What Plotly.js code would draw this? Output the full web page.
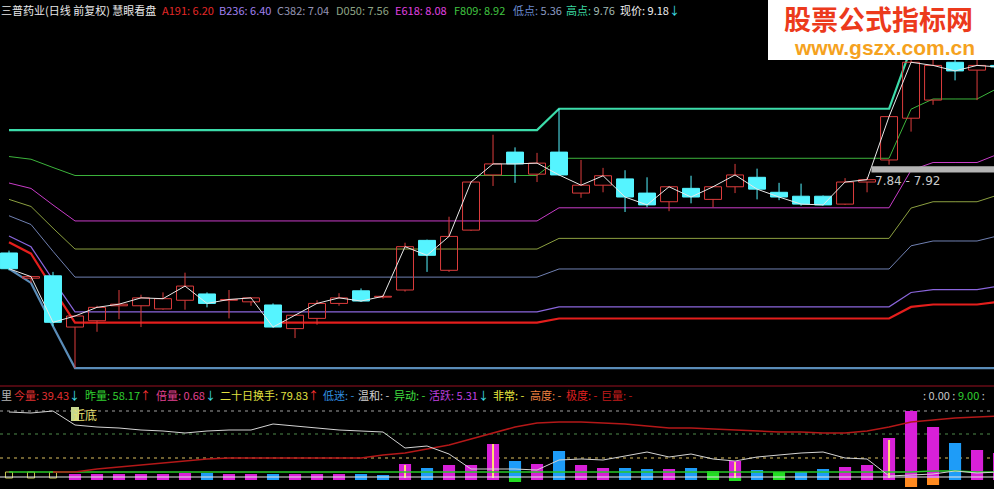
<!DOCTYPE html>
<html><head><meta charset="utf-8">
<script src="https://cdn.plot.ly/plotly-3.0.1.min.js"></script>
<style>html,body{margin:0;padding:0;background:#000;overflow:hidden}#chart{width:994px;height:489px}</style>
</head><body><div id="chart"></div>
<script>
// ---------------- DATA ----------------
const stockTitle = '三普药业(日线 前复权) 慧眼看盘';
const open  = [6.82,6.50,6.53,5.88,5.96,6.15,6.15,6.11,6.22,6.30,6.22,6.20,6.16,5.86,5.99,6.18,6.34,6.26,6.35,6.98,6.60,7.11,7.81,8.10,7.82,8.10,7.58,7.68,7.76,7.58,7.47,7.64,7.50,7.66,7.78,7.59,7.54,7.54,7.44,7.72,8.00,8.53,8.76,9.24,9.14,9.20];
const high  = [6.85,6.53,6.58,6.03,6.15,6.35,6.29,6.32,6.57,6.32,6.35,6.26,6.18,6.04,6.22,6.31,6.37,6.29,6.95,6.99,7.28,7.73,8.32,8.16,8.09,8.65,8.00,7.90,7.87,7.78,7.67,7.80,7.67,7.95,7.89,7.71,7.70,7.55,7.77,7.78,8.56,9.42,9.58,9.40,9.38,9.76];
const low   = [6.60,6.44,5.89,5.36,5.82,5.98,5.88,6.10,6.10,6.13,5.99,6.15,5.87,5.74,5.91,6.15,6.20,6.24,6.33,6.58,6.58,7.10,7.67,7.71,7.72,7.80,7.52,7.59,7.34,7.40,7.35,7.45,7.40,7.58,7.50,7.49,7.42,7.42,7.43,7.59,7.94,8.36,8.70,9.01,8.76,9.05];
const close = [6.62,6.52,5.94,6.02,6.13,6.17,6.25,6.24,6.40,6.18,6.23,6.25,5.88,6.03,6.18,6.25,6.21,6.27,6.90,6.79,7.03,7.72,7.95,7.95,7.96,7.81,7.68,7.80,7.53,7.43,7.66,7.53,7.66,7.81,7.63,7.53,7.44,7.43,7.72,7.75,8.55,9.24,9.20,9.13,9.20,9.18];
// rolling low / high lines
const lowLine  = [6.62,6.44,5.89,5.36,5.36,5.36,5.36,5.36,5.36,5.36,5.36,5.36,5.36,5.36,5.36,5.36,5.36,5.36,5.36,5.36,5.36,5.36,5.36,5.36,5.36,5.36,5.36,5.36,5.36,5.36,5.36,5.36,5.36,5.36,5.36,5.36,5.36,5.36,5.36,5.36,5.36,5.36,5.36,5.36,5.36,5.36];
const highLine = [8.38,8.38,8.38,8.38,8.38,8.38,8.38,8.38,8.38,8.38,8.38,8.38,8.38,8.38,8.38,8.38,8.38,8.38,8.38,8.38,8.38,8.38,8.38,8.38,8.38,8.65,8.65,8.65,8.65,8.65,8.65,8.65,8.65,8.65,8.65,8.65,8.65,8.65,8.65,8.65,8.65,9.42,9.58,9.58,9.58,9.76];
const fibNames  = ['A191','B236','C382','D050','E618','F809'];
const fibRatios = [0.191,0.236,0.382,0.5,0.618,0.809];
const lowPrice = 5.36, highPrice = 9.76, lastPrice = 9.18;
const rangeLow = 7.84, rangeHigh = 7.92;
// lower panel
const volBar   = [6,6,6,4,4,4,4,4,5,5,4,4,4,4,4,4,4,3,14,10,13,13,34,17,14,27,13,10,10,9,9,10,7,17,8,6,6,9,11,13,40,67,51,35,28,25];
const volCat   = ['o','o','o','m','m','m','m','m','m','c','m','m','c','m','m','m','c','c','m','c','m','m','m','c','m','c','m','m','c','c','m','c','g','m','c','g','c','c','m','m','m','m','m','c','m','m'];
const belowVal = [null,null,null,null,null,null,null,null,null,null,null,null,null,null,null,null,null,null,null,null,null,null,null,-4,null,null,null,null,null,null,null,null,null,-3,null,null,null,null,null,null,null,-9,-7,null,null,null];
const belowCat = ['','','','','','','','','','','','','','','','','','','','','','','','g','','','','','','','','','','g','','','','','','','','o','o','','',''];
const flagTop  = [null,null,null,null,null,null,null,null,null,null,null,null,null,null,null,null,null,null,13,null,null,null,34,null,null,null,null,null,null,null,null,null,null,16,null,null,null,null,null,null,38,null,null,null,null,null];
const redVol   = [null,null,6,6,9,11,13,15,17,19,20,20,20,20,20,20,20,23,25,29,33,39,45,51,55,56,56,55,54,52,50,50,49,48,47,46,46,45,45,47,51,56,58,60,61,62];
const whiteVol = [66,65,67,53,51,50,48,47,45,47,48,48,54,52,50,48,47,46,30,32,24,9,9,9,8,18,19,18,22,26,21,24,19,17,21,23,25,26,20,19,2,3,4,7,5,6];
const greenVol = [6,6,6,6,6,6,6,6,6,6,6,6,6,6,6,6,6,6,6,6,6,6,6,6,6,6,6,6,6,6,6,6,6,6,6,6,6,6,6,6,6,6,7,7,6,6];
const volLabels = ['今量','昨量','倍量','二十日换手','低迷','温和','异动','活跃','非常','高度','极度','巨量'];
const volValues = ['39.43','58.17','0.68','79.83','-','-','-','5.31','-','-','-','-'];
const volArrows = ['↓','↑','↓','↑','','','','↓','','','',''];
const sideValues = ['0.00','9.00'];
const nearLabel = '近底';

// ---------------- RENDER ----------------
const W = 994, H = 489;
const FONT = 'Noto Sans CJK SC, Noto Sans, sans-serif';
const N = open.length;
const idx = open.map((_, i) => i);
const HW = 0.385;

const traces = [];
const fibColors = ['#e41e1c','#8a66dc','#7080b2','#8ca040','#c83cc8','#3cb43c'];
const fibWidths = [2.2,1.2,1,1,1,1];
fibRatios.forEach((r, k) => {
  traces.push({type:'scatter', mode:'lines', x:idx,
    y: idx.map(i => lowLine[i] + r*(highLine[i]-lowLine[i])),
    line:{color:fibColors[k], width:fibWidths[k]}, hoverinfo:'skip'});
});
traces.push({type:'scatter', mode:'lines', x:idx, y:lowLine, line:{color:'#5a8cb8', width:2.2}, hoverinfo:'skip'});
traces.push({type:'scatter', mode:'lines', x:idx, y:highLine, line:{color:'#3cdcaa', width:2.2}, hoverinfo:'skip'});

const rX=[],rY=[],cX=[],cY=[],rwX=[],rwY=[],cwX=[],cwY=[];
for (let i=0;i<N;i++){
  const top=Math.max(open[i],close[i]), bot=Math.min(open[i],close[i]);
  const up = close[i] >= open[i];
  const X = up?rX:cX, Y = up?rY:cY, WX = up?rwX:cwX, WY = up?rwY:cwY;
  X.push(i-HW,i+HW,i+HW,i-HW,i-HW,null);
  Y.push(bot,bot,top,top,bot,null);
  WX.push(i,i,null,i,i,null);
  WY.push(high[i],top,null,bot,low[i],null);
}
const RED='#dc3c3c', CY='#55f4ff';
traces.push({type:'scatter', mode:'lines', x:rwX, y:rwY, line:{color:RED,width:1}, hoverinfo:'skip'});
traces.push({type:'scatter', mode:'lines', x:cwX, y:cwY, line:{color:CY,width:1}, hoverinfo:'skip'});
traces.push({type:'scatter', mode:'lines', x:rX, y:rY, line:{color:RED,width:1}, hoverinfo:'skip'});
traces.push({type:'scatter', mode:'lines', x:cX, y:cY, fill:'toself', fillcolor:CY, line:{color:CY,width:1}, hoverinfo:'skip'});
traces.push({type:'scatter', mode:'lines', x:idx, y:close, line:{color:'#e8e8e8',width:1}, hoverinfo:'skip'});

// lower panel bars
const catColor = {m:'#d820d8', c:'#1e9cf8', g:'#22dc22', o:'#ff8a20'};
['m','c','g'].forEach(c => {
  traces.push({type:'bar', x:idx, y:volBar.map((v,i)=>volCat[i]===c?v+2:null), base:-2,
    width:0.55, marker:{color:catColor[c], line:{width:0}}, yaxis:'y2', hoverinfo:'skip'});
});
traces.push({type:'bar', x:idx, y:volBar.map((v,i)=>volCat[i]==='o'?v:null), base:0,
  width:0.32, marker:{color:'rgba(0,0,0,0)', line:{color:'#c8c850', width:1}}, yaxis:'y2', hoverinfo:'skip'});
['g','o'].forEach(c => {
  traces.push({type:'bar', x:idx, y:belowVal.map((v,i)=>belowCat[i]===c?v:null), base:0,
    width:0.55, marker:{color:catColor[c], line:{width:0}}, yaxis:'y2', hoverinfo:'skip'});
});
traces.push({type:'bar', x:idx, y:flagTop, base:0, width:0.09, marker:{color:'#ffe070', line:{width:0}}, yaxis:'y2', hoverinfo:'skip'});
traces.push({type:'scatter', mode:'lines', x:idx, y:greenVol, line:{color:'#28c828',width:1.5}, yaxis:'y2', hoverinfo:'skip'});
traces.push({type:'scatter', mode:'lines', x:idx, y:redVol, line:{color:'#b41818',width:1.5}, yaxis:'y2', hoverinfo:'skip'});
traces.push({type:'scatter', mode:'lines', x:idx, y:whiteVol, line:{color:'#d4d4d4',width:1}, yaxis:'y2', hoverinfo:'skip'});

// shapes
const py = p => 1 - p/H, px = p => p/W;
const shapes = [
  {type:'line', xref:'paper', yref:'y2', x0:0, x1:1, y0:67, y1:67, line:{color:'#a0a0a0', width:1, dash:'3px,4px'}, layer:'below'},
  {type:'line', xref:'paper', yref:'y2', x0:0, x1:1, y0:44, y1:44, line:{color:'#4e8a4a', width:1, dash:'3px,4px'}, layer:'below'},
  {type:'line', xref:'paper', yref:'y2', x0:0, x1:1, y0:20, y1:20, line:{color:'#dcc060', width:1, dash:'3px,4px'}, layer:'below'},
  {type:'line', xref:'paper', yref:'y2', x0:0, x1:1, y0:1, y1:1, line:{color:'#e8e8e8', width:1}},
  {type:'line', xref:'paper', yref:'paper', x0:0, x1:1, y0:py(386), y1:py(386), line:{color:'#9a1020', width:1}},
  {type:'rect', xref:'x', yref:'y', x0:39.2, x1:45.5, y0:rangeLow, y1:rangeHigh, fillcolor:'#b4b4b4', line:{width:0}},
  {type:'rect', xref:'paper', yref:'paper', x0:px(71), x1:px(79), y0:py(421), y1:py(407), fillcolor:'#c8d890', line:{width:0}},
  {type:'rect', xref:'paper', yref:'paper', x0:px(768), x1:1, y0:py(60), y1:1, fillcolor:'#ffffff', line:{width:0}}
];

function A(x, y, text, color, size, anchor, family){
  return {xref:'paper', yref:'paper', x:px(x), y:py(y), xanchor:anchor||'left', yanchor:'middle',
    text, showarrow:false, borderpad:0, font:{family:family||FONT, size:size||11, color}};
}
const sp = (t,c) => `<span style="color:${c}">${t}</span>`;
const annotations = [];
annotations.push(A(0,10,stockTitle,'#e8e8e8'));
const fibTextColors = ['#e42828','#a080f0','#9494b4','#8ea486','#e040e0','#40c440'];
const fibX = [161,218,276,335,394,453];
fibNames.forEach((n,k)=>{
  const v = (lowPrice + fibRatios[k]*(highPrice-lowPrice)).toFixed(2);
  annotations.push(A(fibX[k],10,`${n}: ${v}`,fibTextColors[k]));
});
annotations.push(A(512,10, sp('低点:','#6a8ad0')+' '+sp(lowPrice.toFixed(2),'#8a9ac0'),'#8a9ac0'));
annotations.push(A(565,10, sp('高点:','#3ad8a0')+' '+sp(highPrice.toFixed(2),'#a0b8b0'),'#a0b8b0'));
annotations.push(A(619,10, sp('现价:','#f0f0f0')+' '+sp(lastPrice.toFixed(2),'#f0f0f0')+sp('↓','#40e0f0'),'#f0f0f0'));

// lower header
annotations.push(A(0,395,'里','#b4b4b4'));
const volColors = ['#e03030','#30d030','#e04090','#e0e040','#3090e0','#d0d0d0','#40e040','#c040e0','#f0f040','#f08040','#e02020','#c01c1c'];
const volX = [13,84,155,219,322,357,393,428,492,529,565,600];
volLabels.forEach((l,k)=>{
  const arr = volArrows[k] ? sp(volArrows[k], volArrows[k]==='↓' ? '#40e0f0' : '#ff3030') : '';
  annotations.push(A(volX[k],395, `${l}: ${volValues[k]}`+arr, volColors[k]));
});
annotations.push(A(922,395, sp(': '+sideValues[0]+' : ','#c8c8c8')+sp(sideValues[1],'#30d030')+sp(' :','#c8c8c8'),'#c8c8c8'));
annotations.push(A(72,414,nearLabel,'#e8e070',12));
annotations.push(A(874,181,`${rangeLow.toFixed(2)} - ${rangeHigh.toFixed(2)}`,'#c8c8c8',12, 'left', 'DejaVu Sans, sans-serif'));
// watermark
annotations.push(A(878,19,'<b>股票公式指标网</b>','#ec3a1c',27,'center'));
annotations.push(A(884,48,'<b>www.gszx.com.cn</b>','#f5a21e',21,'center','Liberation Sans, Arial, sans-serif'));

const layout = {
  width:W, height:H, margin:{l:0,r:0,t:0,b:0,pad:0},
  paper_bgcolor:'#000', plot_bgcolor:'#000', showlegend:false, barmode:'overlay', hovermode:false,
  xaxis:{range:[-0.409,44.77], visible:false, fixedrange:true},
  yaxis:{domain:[1-383/489,1], range:[5.17,10.03], visible:false, fixedrange:true},
  yaxis2:{domain:[0,89/489], range:[-11,78], visible:false, fixedrange:true},
  shapes, annotations
};
Plotly.newPlot('chart', traces, layout, {staticPlot:true, displayModeBar:false});
</script>
</body></html>
